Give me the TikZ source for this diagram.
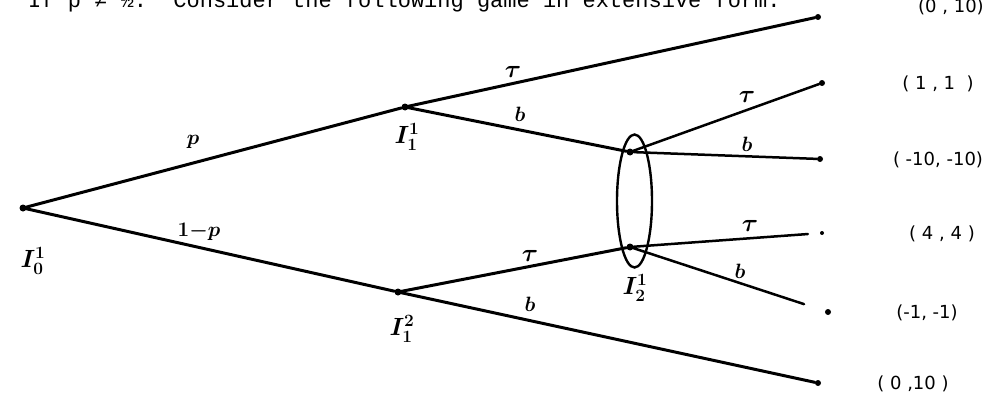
\documentclass[tikz,border=0pt]{standalone}
\usepackage{fontspec}
\usetikzlibrary{shapes.geometric}
\newfontfamily\typefont{Liberation Mono}
\newfontfamily\handfont{DejaVu Sans}
\begin{document}
\begin{tikzpicture}[x=1pt,y=-1pt,
  dec/.style={circle,fill=black,inner sep=0pt,minimum size=7pt},
  leaf/.style={circle,fill=black,inner sep=0pt,minimum size=6pt},
  br/.style={line width=3pt,line cap=round},
  brthin/.style={line width=2.5pt,line cap=round},
  elab/.style={font=\fontsize{21}{24}\selectfont\boldmath,inner sep=1pt},
  tlab/.style={font=\fontsize{27}{30}\selectfont\boldmath,inner sep=1pt},
  pay/.style={font=\handfont\fontsize{18}{20}\selectfont,inner sep=1pt},
  plab/.style={font=\fontsize{23}{26}\selectfont\boldmath,inner sep=1pt}]
\useasboundingbox (0,0) rectangle (1006,404);
\clip (0,0) rectangle (1006,404);
\fill[white] (0,0) rectangle (1006,404);

% heading (cut off at the top edge)
\node[anchor=base west,inner sep=0pt,font=\typefont\fontsize{22}{24}\selectfont] (head) at (28,8)
  {If p ≠ ½.\ \ Consider the following game in extensive form.};

% decision nodes
\node[dec] (r) at (23,208) {};
\node[dec] (u) at (405,107) {};
\node[dec] (l) at (398,292) {};
\node[dec] (a) at (630,152) {};
\node[dec] (b) at (630,247) {};

% terminal nodes
\node[leaf] (t1) at (818,17) {};
\node[leaf] (t2) at (822,83) {};
\node[leaf] (t3) at (820,159) {};
\node[leaf,minimum size=4pt] (t4) at (822,233) {};
\node[leaf] (t5) at (828,312) {};
\node[leaf] (t6) at (818,383) {};

% branches
\draw[br] (r) -- (u);
\draw[br] (r) -- (l);
\draw[br] (u) -- (t1);
\draw[br] (u) -- (a);
\draw[br] (l) -- (b);
\draw[br] (l) -- (t6);
\draw[brthin] (a) -- (t2);
\draw[brthin] (a) -- (t3);
\draw[brthin,shorten >=12pt] (b) -- (t4);
\draw[brthin,shorten >=22pt] (b) -- (t5);

% information set
\node[draw,ellipse,line width=2.4pt,minimum width=35pt,minimum height=133pt,inner sep=0pt] (info) at (634.5,201) {};

% player labels
\node[plab,font=\fontsize{27}{30}\selectfont\boldmath] (lr) at (33,261) {$I_0^1$};
\node[plab] (lu) at (407,137) {$I_1^1$};
\node[plab] (ll) at (402,329) {$I_1^2$};
\node[plab] (lb) at (635,288) {$I_2^1$};

% branch labels
\node[elab] (ep) at (193,142) {$p$};
\node[elab] (eq) at (199,232) {$1{-}p$};
\node[tlab] (e1) at (513,72) {$\tau$};
\node[elab] (e2) at (520,114) {$b$};
\node[tlab] (e3) at (747,97) {$\tau$};
\node[elab] (e4) at (747,144) {$b$};
\node[tlab] (e5) at (530,256) {$\tau$};
\node[elab] (e6) at (530,304) {$b$};
\node[tlab] (e7) at (750,226) {$\tau$};
\node[elab] (e8) at (740,271) {$b$};

% payoffs
\node[pay] (p1) at (951,7) {(0 , 10)};
\node[pay] (p2) at (938,84) {( 1 , 1 \ )};
\node[pay] (p3) at (938,160) {( -10, -10)};
\node[pay] (p4) at (942,234) {( 4 , 4 )};
\node[pay] (p5) at (927,313) {(-1, -1)};
\node[pay] (p6) at (913,384) {( 0 ,10 )};
\end{tikzpicture}
\end{document}
